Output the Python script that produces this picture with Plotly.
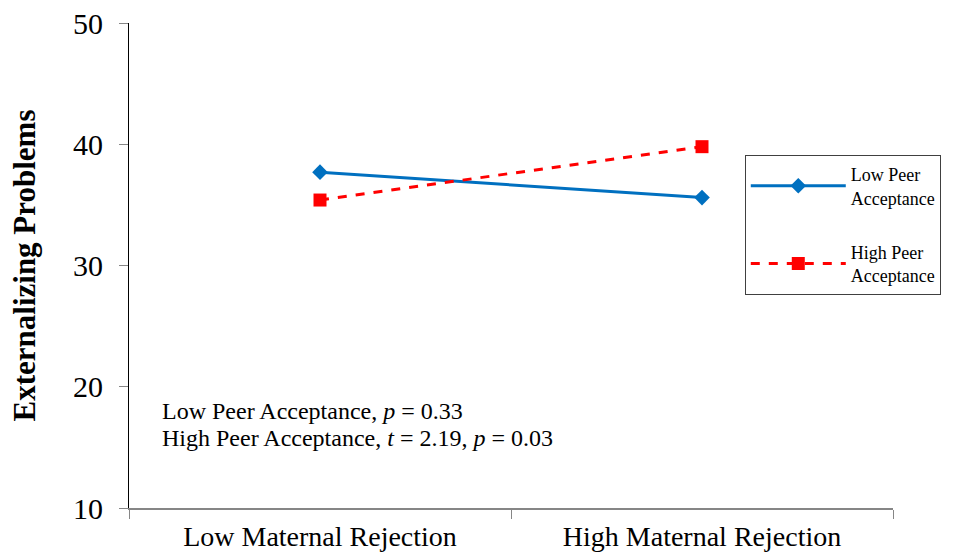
import plotly.graph_objects as go

categories = ["Low Maternal Rejection", "High Maternal Rejection"]
low_peer = [37.7, 35.6]
high_peer = [35.4, 39.8]
series_names = ["Low Peer<br>Acceptance", "High Peer<br>Acceptance"]
y_ticks = [10, 20, 30, 40, 50]
note_lines = [
    "Low Peer Acceptance, <i>p</i> = 0.33",
    "High Peer Acceptance, <i>t</i> = 2.19, <i>p</i> = 0.03",
]

FONT = "Liberation Serif, Times New Roman, serif"

fig = go.Figure()
fig.add_trace(go.Scatter(
    x=categories, y=low_peer, name=series_names[0], mode="lines+markers",
    legendgroup="a",
    line=dict(color="#0070C0", width=3),
    marker=dict(symbol="diamond", size=12, color="#0070C0"),
))
fig.add_trace(go.Scatter(
    x=categories, y=high_peer, name=series_names[1], mode="lines+markers",
    legendgroup="b",
    line=dict(color="#FF0000", width=3, dash="dash"),
    marker=dict(symbol="square", size=13, color="#FF0000"),
))

for txt, yy in zip(note_lines, [0.2, 0.144]):
    fig.add_annotation(
        xref="paper", yref="paper", x=0.041, y=yy, xanchor="left", yanchor="middle",
        text=txt, showarrow=False, align="left",
        font=dict(family=FONT, size=24, color="black"),
    )

fig.update_layout(
    width=954, height=555,
    margin=dict(l=129, r=61, t=23, b=47),
    paper_bgcolor="white", plot_bgcolor="white",
    font=dict(family=FONT, color="black"),
    showlegend=True,
    legend=dict(
        x=0.806, y=0.728, xanchor="left", yanchor="top",
        bordercolor="#404040", borderwidth=1, bgcolor="white",
        font=dict(family=FONT, size=18, color="black"),
        tracegroupgap=28, itemwidth=95,
    ),
    xaxis=dict(
        type="category", range=[-0.5, 1.5], tickson="boundaries",
        showline=True, linecolor="#868686", linewidth=1.5,
        ticks="outside", ticklen=9, tickcolor="#868686",
        showgrid=False, zeroline=False, automargin=False,
        ticklabelstandoff=3,
        tickfont=dict(family=FONT, size=28, color="black"),
    ),
    yaxis=dict(
        range=[10, 50], tickvals=y_ticks, showline=True, linecolor="black", linewidth=1,
        ticks="outside", ticklen=9, tickcolor="#868686",
        showgrid=False, zeroline=False, automargin=False,
        ticklabelstandoff=10,
        tickfont=dict(family=FONT, size=30, color="black"),
        title=dict(text="<b>Externalizing Problems</b>", font=dict(family=FONT, size=31, color="black"), standoff=28),
    ),
)

fig.write_html("out.html")
